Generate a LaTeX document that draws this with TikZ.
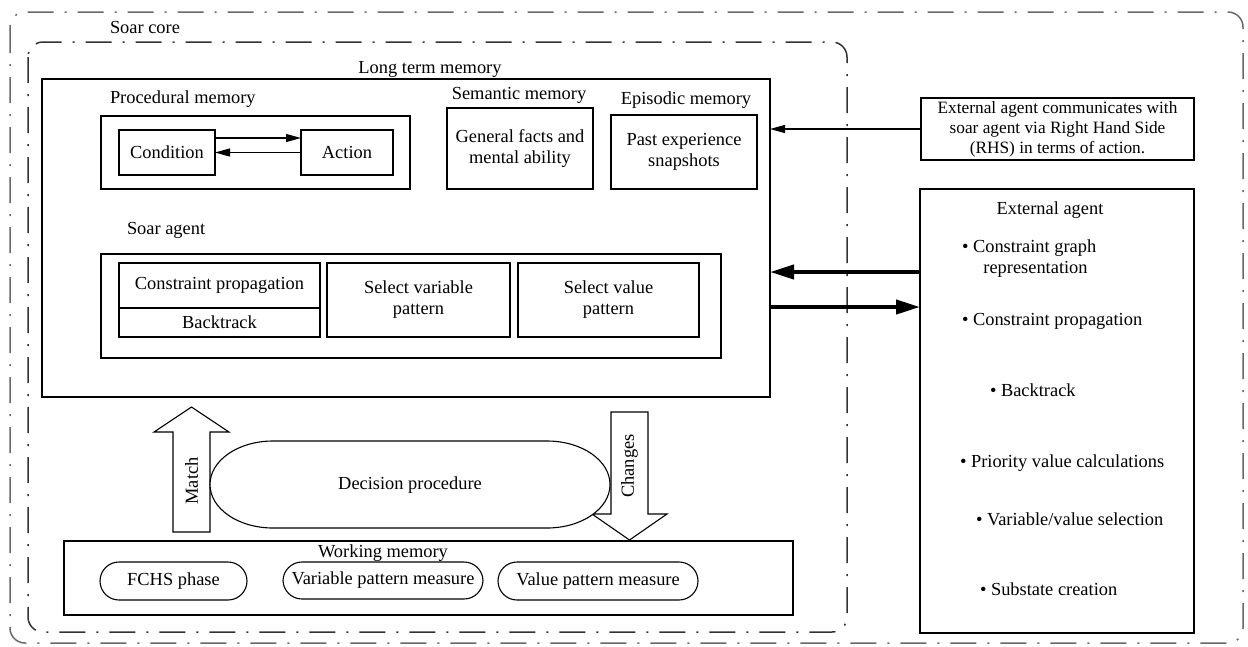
\documentclass[tikz,border=0pt]{standalone}
\usepackage{fontspec}
\setmainfont{Liberation Serif}
\usetikzlibrary{positioning,arrows.meta,calc}
\definecolor{CoreGray}{RGB}{50,50,50}
\definecolor{OuterGray}{RGB}{105,105,105}

\begin{document}
\begin{tikzpicture}[x=1pt, y=-1pt,
  every node/.style={font=\fontsize{18.4}{21}\selectfont, align=center, inner sep=0pt, outer sep=0pt},
  box/.style={draw, line width=1.1pt},
  pill/.style={draw, line width=1.1pt, rounded corners=19pt, minimum height=38pt},
  dashdot/.style={line width=1.5pt, rounded corners=15pt, dash pattern=on 26pt off 11pt on 2pt off 11pt},
  thinarrow/.style={line width=1.1pt, -{Triangle[length=15pt,width=8pt]}},
  thickarrow/.style={line width=4pt, -{Triangle[length=24pt,width=14pt]}},
  blockarrow/.style={draw, line width=1.1pt, fill=white, line join=miter}]
  \useasboundingbox (0,0) rectangle (1248,646);

  % frames
  \draw[dashdot, OuterGray] (10,12) rectangle (1243,643);
  \draw[dashdot, CoreGray] (28,42) rectangle (847,632);
  \node[anchor=base west] (corelbl) at (110,33) {Soar core};

  % long term memory
  \node[box, minimum width=728pt, minimum height=318pt] (ltm) at (406,238) {};
  \node[anchor=base] (ltmlbl) at (430,73) {Long term memory};

  \node[box, minimum width=309pt, minimum height=73pt] (proc) at (255.5,152.5) {};
  \node[anchor=base west] (proclbl) at (110,103) {Procedural memory};
  \node[box, minimum width=96pt, minimum height=45pt] (cond) at (167,152.5) {Condition};
  \node[box, minimum width=92pt, minimum height=45pt] (act) at (347,152.5) {Action};
  \draw[thinarrow] ([yshift=14.5pt]cond.east) -- ([yshift=14.5pt]act.west);
  \draw[thinarrow] (act.west) -- (cond.east);

  \node[box, minimum width=146pt, minimum height=81pt] (sem) at (520,148.5) {General facts and\\mental ability};
  \node[anchor=base] (semlbl) at (519,99) {Semantic memory};
  \node[box, minimum width=146pt, minimum height=74pt] (epi) at (684,152) {Past experience\\snapshots};
  \node[anchor=base] (epilbl) at (686,104) {Episodic memory};

  % soar agent
  \node[box, minimum width=620pt, minimum height=104pt] (agent) at (411,306) {};
  \node[anchor=base west] (agentlbl) at (127,234) {Soar agent};
  \node[box, minimum width=201pt, minimum height=45pt] (cp) at (219.5,285.5) {Constraint propagation};
  \node[box, minimum width=201pt, minimum height=29pt] (bt) at (219.5,322.5) {Backtrack};
  \node[box, minimum width=183pt, minimum height=74pt] (selvar) at (418.5,300) {Select variable\\pattern};
  \node[box, minimum width=181pt, minimum height=74pt] (selval) at (608.5,300) {Select value\\pattern};

  % match / changes
  \draw[blockarrow] (173,532) -- (173,432) -- (154,432) -- (191.5,407) -- (229,432) -- (210,432) -- (210,532) -- cycle;
  \node[rotate=90] (matchlbl) at (191.5,481) {Match};
  \draw[blockarrow] (611,412) -- (648,412) -- (648,514) -- (667,514) -- (629.5,540) -- (592,514) -- (611,514) -- cycle;
  \node[rotate=90] (chglbl) at (629.5,466) {Changes};

  % decision procedure
  \draw[line width=1.1pt, fill=white] (273,441) -- (547,441)
    .. controls (582,441) and (610,460.5) .. (610,484.5)
    .. controls (610,508.5) and (582,528) .. (547,528) -- (273,528)
    .. controls (238,528) and (210,508.5) .. (210,484.5)
    .. controls (210,460.5) and (238,441) .. (273,441) -- cycle;
  \node (dec) at (410,485) {Decision procedure};

  % working memory
  \node[box, minimum width=729pt, minimum height=74pt] (wm) at (428.5,578) {};
  \node[anchor=base] (wmlbl) at (383,557) {Working memory};
  \node[pill, minimum width=147pt] (fchs) at (173.5,581) {FCHS phase};
  \node[pill, minimum width=200pt, minimum height=37pt] (varm) at (383,580.5) {Variable pattern measure};
  \node[pill, minimum width=200pt] (valm) at (598,581) {Value pattern measure};

  % external agent
  \node[box, minimum width=273pt, minimum height=62pt, font=\fontsize{17.3}{20}\selectfont] (rhs) at (1057.5,129)
    {External agent communicates with\\soar agent via Right Hand Side\\(RHS) in terms of action.};
  \draw[thinarrow] (rhs.west) -- (rhs.west -| ltm.east);

  \node[box, minimum width=274pt, minimum height=444pt] (ext) at (1057,411) {};
  \node[anchor=base] (extlbl) at (1050,214) {External agent};
  \node[anchor=base west] (it1) at (962,252) {\textbullet\ Constraint graph};
  \node[anchor=base] (it1b) at (1035.5,273) {representation};
  \node[anchor=base west] (it2) at (962,325) {\textbullet\ Constraint propagation};
  \node[anchor=base west] (it3) at (990,396) {\textbullet\ Backtrack};
  \node[anchor=base west] (it4) at (960,467) {\textbullet\ Priority value calculations};
  \node[anchor=base west] (it5) at (976,525) {\textbullet\ Variable/value selection};
  \node[anchor=base west] (it6) at (980,595) {\textbullet\ Substate creation};

  \draw[thickarrow] (ext.west |- 0,272) -- (ltm.east |- 0,272);
  \draw[thickarrow] (ltm.east |- 0,307) -- (ext.west |- 0,307);
\end{tikzpicture}
\end{document}
